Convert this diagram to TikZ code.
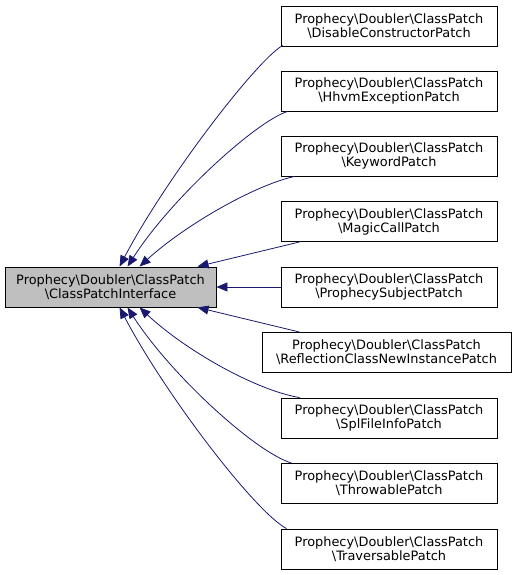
\documentclass[tikz,border=0pt]{standalone}
\usepackage{fontspec}
\setmainfont{DejaVu Sans}
\usetikzlibrary{arrows.meta}
\definecolor{edgeblue}{HTML}{191970}
\definecolor{ifacegray}{HTML}{BFBFBF}
\begin{document}
\begin{tikzpicture}[x=1pt,y=-1pt,
  cls/.style={draw=black,line width=0.9pt,rectangle,minimum height=40pt,inner sep=0pt,align=center,
    font=\fontsize{12.9}{14}\selectfont},
  inh/.style={draw=edgeblue,line width=0.8pt,{Triangle[length=11pt,width=9pt]}-}
]
\useasboundingbox (0,0) rectangle (515,575);
\node[cls,fill=ifacegray,minimum width=211pt] (iface) at (110.5,287) {Prophecy\textbackslash Doubler\textbackslash ClassPatch\\\textbackslash ClassPatchInterface};
\node[cls,minimum width=216pt] (c1) at (389,26) {Prophecy\textbackslash Doubler\textbackslash ClassPatch\\\textbackslash DisableConstructorPatch};
\node[cls,minimum width=216pt] (c2) at (389,91) {Prophecy\textbackslash Doubler\textbackslash ClassPatch\\\textbackslash HhvmExceptionPatch};
\node[cls,minimum width=216pt] (c3) at (389,156) {Prophecy\textbackslash Doubler\textbackslash ClassPatch\\\textbackslash KeywordPatch};
\node[cls,minimum width=216pt] (c4) at (389,221.5) {Prophecy\textbackslash Doubler\textbackslash ClassPatch\\\textbackslash MagicCallPatch};
\node[cls,minimum width=216pt] (c5) at (389,287) {Prophecy\textbackslash Doubler\textbackslash ClassPatch\\\textbackslash ProphecySubjectPatch};
\node[cls,minimum width=249pt] (c6) at (386.5,352.5) {Prophecy\textbackslash Doubler\textbackslash ClassPatch\\\textbackslash ReflectionClassNewInstancePatch};
\node[cls,minimum width=216pt] (c7) at (389,418) {Prophecy\textbackslash Doubler\textbackslash ClassPatch\\\textbackslash SplFileInfoPatch};
\node[cls,minimum width=216pt] (c8) at (389,483.5) {Prophecy\textbackslash Doubler\textbackslash ClassPatch\\\textbackslash ThrowablePatch};
\node[cls,minimum width=216pt] (c9) at (389,549) {Prophecy\textbackslash Doubler\textbackslash ClassPatch\\\textbackslash TraversablePatch};
% upper edges
\draw[inh] ([xshift=115pt]iface.north west) .. controls (165,180) and (255,62) .. ([xshift=2pt,yshift=1pt]c1.south west);
\draw[inh] ([xshift=123pt]iface.north west) .. controls (170,200) and (255,122) .. ([xshift=7pt]c2.south west);
\draw[inh] ([xshift=135pt]iface.north west) .. controls (185,225) and (255,185) .. ([xshift=14pt]c3.south west);
\draw[inh] ([xshift=193pt]iface.north west) -- ([xshift=19pt]c4.south west);
\draw[inh] (iface.east) -- (c5.west);
% lower edges
\draw[inh] ([xshift=193pt]iface.south west) -- ([xshift=38pt]c6.north west);
\draw[inh] ([xshift=135pt]iface.south west) .. controls (185,350) and (255,390) .. ([xshift=19pt]c7.north west);
\draw[inh] ([xshift=123pt]iface.south west) .. controls (170,374) and (255,452) .. ([xshift=11pt]c8.north west);
\draw[inh] ([xshift=115pt]iface.south west) .. controls (165,394) and (255,512) .. ([xshift=6pt]c9.north west);
\end{tikzpicture}
\end{document}
